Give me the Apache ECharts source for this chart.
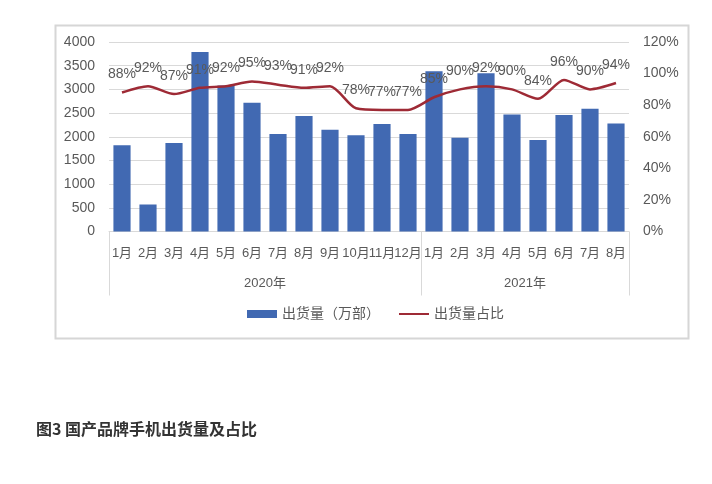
<!DOCTYPE html>
<html>
<head>
<meta charset="utf-8">
<script src="https://cdn.jsdelivr.net/npm/echarts@6/dist/echarts.min.js"></script>
<style>
html,body{margin:0;padding:0;background:#fff;}
#main{width:712px;height:484px;}
</style>
</head>
<body>
<div id="main"></div>
<script>
var months = ['1月','2月','3月','4月','5月','6月','7月','8月','9月','10月','11月','12月','1月','2月','3月','4月','5月','6月','7月','8月'];
var years = ['2020年','2021年'];
var yearSpan = [12, 8];
var shipments = [1820, 570, 1870, 3790, 3080, 2720, 2060, 2440, 2150, 2030, 2270, 2060, 3380, 1980, 3340, 2470, 1930, 2460, 2590, 2280];
var ratio = [88, 92, 87, 91, 92, 95, 93, 91, 92, 78, 77, 77, 85, 90, 92, 90, 84, 96, 90, 94];
var leftTicks = ['0','500','1000','1500','2000','2500','3000','3500','4000'];
var rightTicks = ['0%','20%','40%','60%','80%','100%','120%'];
var seriesNames = ['出货量（万部）', '出货量占比'];
var title = '图3 国产品牌手机出货量及占比';

var total = yearSpan.reduce(function(a,b){return a+b;},0);
var bounds = [0]; var centers = [];
yearSpan.forEach(function(s){ var b = bounds[bounds.length-1]; centers.push(b + s/2); bounds.push(b + s); });

var chart = echarts.init(document.getElementById('main'));
var gray = '#595959';
var font = "'Liberation Sans','Noto Sans CJK SC',sans-serif";
chart.setOption({
  animation: false,
  textStyle: {fontFamily: font},
  grid: {left: 109, right: 83, top: 42, bottom: 252.5, containLabel: false},
  legend: {
    bottom: 158, left: 242, itemGap: 18, itemWidth: 30, itemHeight: 8,
    textStyle: {color: gray, fontSize: 14},
    data: [{name: seriesNames[0], icon: 'rect'}, {name: seriesNames[1], itemStyle: {opacity: 0}}]
  },
  xAxis: [{
    type: 'category', data: months, position: 'bottom',
    axisLine: {lineStyle: {color: '#d9d9d9', width: 1}},
    axisTick: {show: false},
    axisLabel: {color: gray, fontSize: 13, margin: 15, interval: 0}
  }, {
    type: 'value', min: 0, max: total, position: 'bottom',
    axisLine: {show: false},
    splitLine: {show: false},
    axisTick: {show: true, customValues: bounds, length: 64, lineStyle: {color: '#d9d9d9', width: 1}},
    axisLabel: {show: true, customValues: centers, margin: 45, color: gray, fontSize: 13,
      formatter: function(v){ var i = centers.indexOf(v); return i >= 0 ? years[i] : ''; }}
  }],
  yAxis: [{
    type: 'value', min: 0, max: 4000, interval: 500,
    axisLine: {show: false}, axisTick: {show: false},
    axisLabel: {color: gray, fontSize: 14, margin: 14, formatter: function(v){ return leftTicks[Math.round(v/500)]; }},
    splitLine: {lineStyle: {color: '#d9d9d9', width: 1}}
  }, {
    type: 'value', min: 0, max: 120, interval: 20,
    axisLine: {show: false}, axisTick: {show: false},
    axisLabel: {color: gray, fontSize: 14, margin: 14, formatter: function(v){ return rightTicks[Math.round(v/20)]; }},
    splitLine: {show: false}
  }],
  series: [{
    name: seriesNames[0], type: 'bar', data: shipments, barWidth: '66%',
    itemStyle: {color: '#4169B2'}, xAxisIndex: 0, yAxisIndex: 0
  }, {
    name: seriesNames[1], type: 'line', data: ratio, xAxisIndex: 0, yAxisIndex: 1,
    smooth: 0.25, symbol: 'circle', symbolSize: 0.1, showSymbol: true,
    lineStyle: {color: '#9E2A35', width: 2.5},
    itemStyle: {color: '#9E2A35'},
    label: {show: true, position: 'top', distance: 11, color: gray, fontSize: 14,
      formatter: function(p){ return p.value + '%'; }}
  }],
  graphic: [{
    type: 'rect', silent: true, z: -1,
    shape: {x: 55.5, y: 25.5, width: 633, height: 313},
    style: {fill: 'none', stroke: '#d6d6d6', lineWidth: 2}
  }, {
    type: 'text', left: 36, top: 421,
    style: {text: title, fill: '#333', font: "bold 16px 'Noto Sans CJK SC', sans-serif"}
  }]
});
</script>
</body>
</html>
